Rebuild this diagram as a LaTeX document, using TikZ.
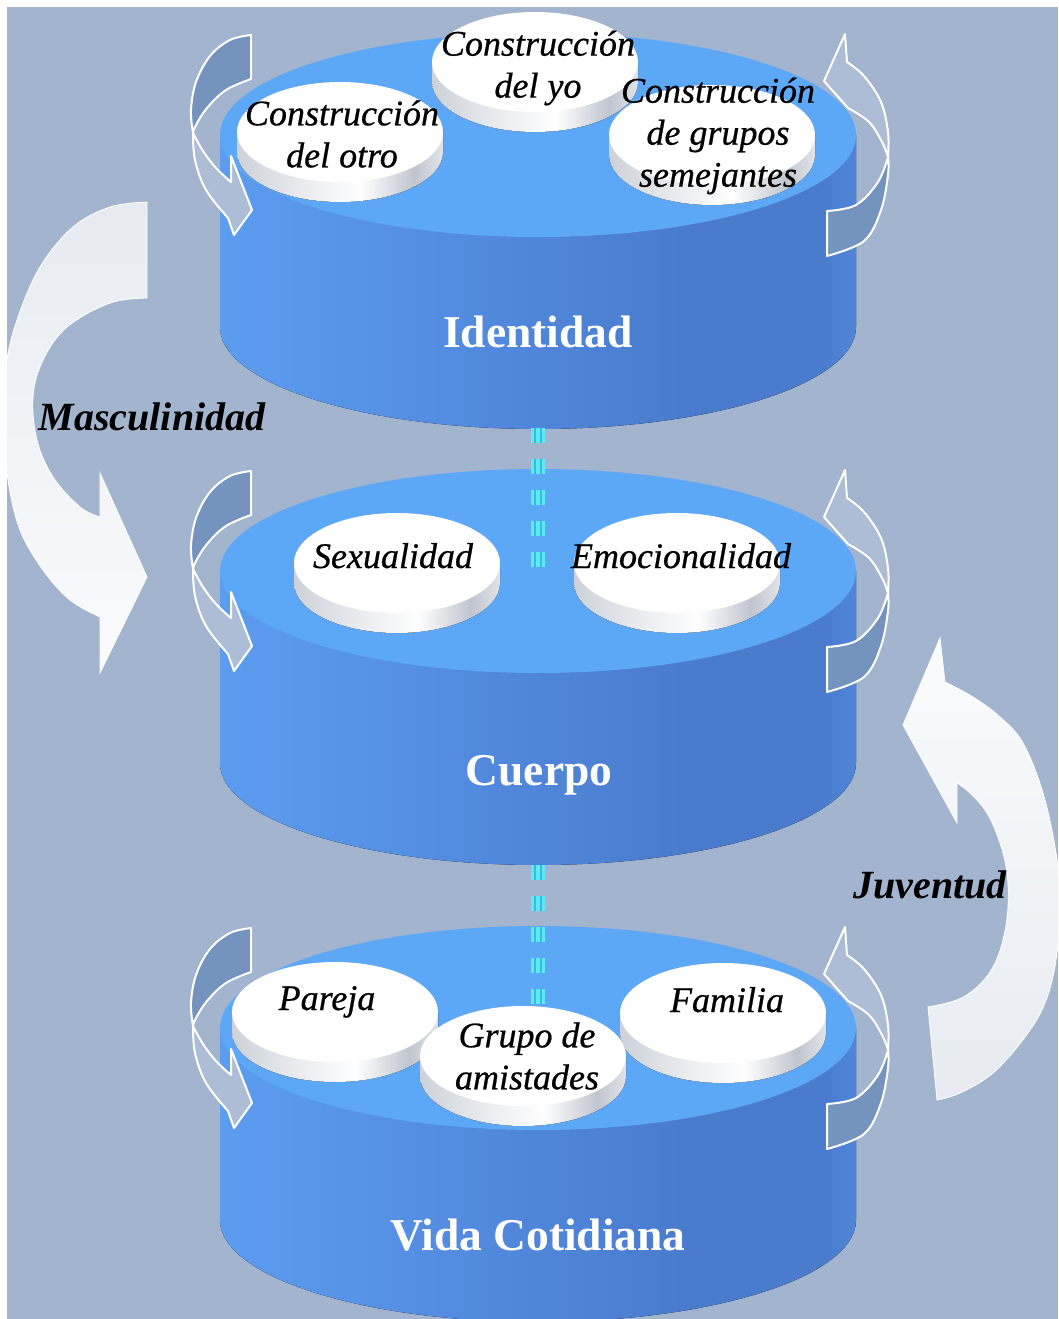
\documentclass[tikz,border=0pt]{standalone}
\usepackage{fontspec}
\setmainfont{Liberation Serif}
\newfontfamily\labfont{Liberation Serif}[FakeBold=0.6]
\definecolor{bgc}{RGB}{162,180,206}
\definecolor{topc}{RGB}{93,167,247}
\definecolor{sideL}{RGB}{92,157,240}
\definecolor{sideM}{RGB}{82,138,222}
\definecolor{sideD}{RGB}{74,123,205}
\definecolor{sideR}{RGB}{80,133,215}
\definecolor{dA}{RGB}{205,210,218}
\definecolor{dB}{RGB}{232,234,238}
\definecolor{dC}{RGB}{192,197,207}
\definecolor{dD}{RGB}{225,228,233}
\definecolor{arrback}{RGB}{116,148,190}
\definecolor{arrfront}{RGB}{172,189,213}
\definecolor{cyanA}{RGB}{95,232,248}
\definecolor{cyanB}{RGB}{55,190,215}
\definecolor{bigG}{RGB}{231,235,241}
\definecolor{bigW}{RGB}{250,251,252}
\pgfdeclarehorizontalshading{cylside}{100bp}{color(0bp)=(sideL); color(25bp)=(sideL); color(45bp)=(sideM); color(62bp)=(sideD); color(72bp)=(sideD); color(75bp)=(sideR); color(100bp)=(sideR)}
\pgfdeclarehorizontalshading{discside}{100bp}{color(0bp)=(dA); color(25bp)=(dA); color(40bp)=(dB); color(55bp)=(white); color(68bp)=(dC); color(75bp)=(dD); color(100bp)=(dD)}
\newcommand{\mycyl}[1]{%
  \fill[shading=cylside] (220,#1) -- (220,#1+192) arc[start angle=180,end angle=0,x radius=318,y radius=102] -- (856,#1) -- cycle;
  \fill[topc] (538,#1) ellipse[x radius=318,y radius=102];}
\newcommand{\mydisc}[2]{%
  \fill[shading=discside] (#1-103,#2) -- (#1-103,#2+20) arc[start angle=180,end angle=0,x radius=103,y radius=50] -- (#1+103,#2) -- cycle;
  \fill[white] (#1,#2) ellipse[x radius=103,y radius=50];}
\begin{document}
\begin{tikzpicture}[x=1pt,y=-1pt,
  smallback/.style={fill=arrback,draw=white,line width=2pt,line join=round},
  smallfront/.style={fill=arrfront,draw=white,line width=2pt,line join=round},
  bigM/.style={top color=bigG,bottom color=bigW,draw=white,line width=0.8pt},
  bigJ/.style={top color=bigW,bottom color=bigG,draw=white,line width=0.8pt},
  dashA/.style={draw=cyanA,line width=14pt,dash pattern=on 15pt off 16pt},
  dashB/.style={draw=cyanB,line width=1.4pt,dash pattern=on 15pt off 16pt},
  lab/.style={font=\labfont\fontsize{36}{42}\selectfont\itshape,align=center,inner sep=0pt,text=black},
  ttl/.style={font=\fontsize{45.5}{50}\selectfont\bfseries,text=white,inner sep=0pt,anchor=base},
  big/.style={font=\fontsize{40}{46}\selectfont\bfseries\itshape,text=black,inner sep=0pt,anchor=base}]
\useasboundingbox (0,0) rectangle (1058,1319);
\fill[white] (0,0) rectangle (1058,1319);
\fill[bgc] (7,7) rectangle (1058,1319);
% big arrows
\begin{scope}
\clip (7,7) rectangle (1058,1319);
\path[bigM] plot[smooth,tension=0.6] coordinates {(147,202) (110,207) (73,227) (40,267) (17,320) (6,367) (4,425) (8,480) (20,530) (43,570) (70,600) (100,617)} -- (100,673) -- (147,577) -- (100,473) -- (100,517) -- plot[smooth,tension=0.6] coordinates {(100,517) (80,507) (53,477) (37,440) (33,397) (43,360) (67,327) (110,303) (147,298)} -- cycle;
\path[bigJ] plot[smooth,tension=0.6] coordinates {(937,1100) (960,1093) (993,1073) (1025,1037) (1045,1003) (1056,960) (1060,903) (1056,853) (1043,793) (1023,743) (1000,717) (973,697) (945,682)} -- (940,638) -- (903,725) -- (957,823) -- (957,783) -- plot[smooth,tension=0.6] coordinates {(957,783) (970,793) (987,813) (1000,843) (1007,873) (1008,907) (1003,940) (993,967) (977,987) (957,1000) (928,1007)} -- cycle;
\end{scope}
% cylinders
\mycyl{135}
\mycyl{571}
\mycyl{1028}
% dashed connectors
\coordinate (c1bot) at (538,428);
\coordinate (c2top) at (538,567);
\coordinate (c2bot) at (538,865);
\coordinate (c3top) at (538,1004);
\foreach \a/\b in {c1bot/c2top,c2bot/c3top}{
  \draw[dashA] (\a) -- (\b);
  \draw[dashB] ([xshift=-3pt]\a) -- ([xshift=-3pt]\b);
  \draw[dashB] ([xshift=3pt]\a) -- ([xshift=3pt]\b);
}
% discs
\mydisc{535}{62}
\mydisc{340}{132}
\mydisc{712}{135}
\mydisc{397}{563}
\mydisc{677}{563}
\mydisc{335}{1012}
\mydisc{723}{1013}
\mydisc{523}{1056}
% small side arrows
\foreach \dy in {0,436,893}{
\begin{scope}[shift={(0,\dy)}]
\path[smallback] (251,35) -- (251,79) -- plot[smooth,tension=0.6] coordinates {(251,79) (226,90) (207,108) (196,125) (193,133)} -- plot[smooth,tension=0.6] coordinates {(193,133) (191,110) (196,82) (210,56) (230,40) (251,35)} -- cycle;
\path[smallfront] plot[smooth,tension=0.6] coordinates {(193,133) (195,160) (206,190) (228,218)} -- (234,235) -- (252,210) -- (231,156) -- (231,182) -- plot[smooth,tension=0.6] coordinates {(231,182) (216,168) (203,151) (193,133)} -- cycle;
\path[smallback] (827,211) -- (827,256) -- plot[smooth,tension=0.6] coordinates {(827,256) (864,241) (881,210) (888,175) (888,157)} -- plot[smooth,tension=0.6] coordinates {(888,157) (878,182) (856,205) (827,211)} -- cycle;
\path[smallfront] plot[smooth,tension=0.6] coordinates {(888,157) (888,132) (881,102) (864,76) (847,62)} -- (845,34) -- (824,81) -- (848,108) -- plot[smooth,tension=0.6] coordinates {(848,108) (869,122) (882,142) (888,157)} -- cycle;
\end{scope}}
% labels
\node[lab] (yo) at (538,68) {Construcción\\del yo};
\node[lab] (otro) at (342,134) {Construcción\\del otro};
\node[lab] (grupos) at (718,136) {Construcción\\de grupos\\semejantes};
\node[lab,anchor=base] (sex) at (393,568) {Sexualidad};
\node[lab,anchor=base] (emo) at (681,568) {Emocionalidad};
\node[lab,anchor=base] (par) at (327,1010) {Pareja};
\node[lab,anchor=base] (fam) at (727,1012) {Familia};
\node[lab] (ami) at (527,1056) {Grupo de\\amistades};
\node[ttl] (tId) at (538,347) {Identidad};
\node[ttl] (tCu) at (539,785) {Cuerpo};
\node[ttl] (tVi) at (538,1250) {Vida Cotidiana};
\node[big] (masc) at (152,430) {Masculinidad};
\node[big] (juv) at (930,898) {Juventud};
\end{tikzpicture}
\end{document}
